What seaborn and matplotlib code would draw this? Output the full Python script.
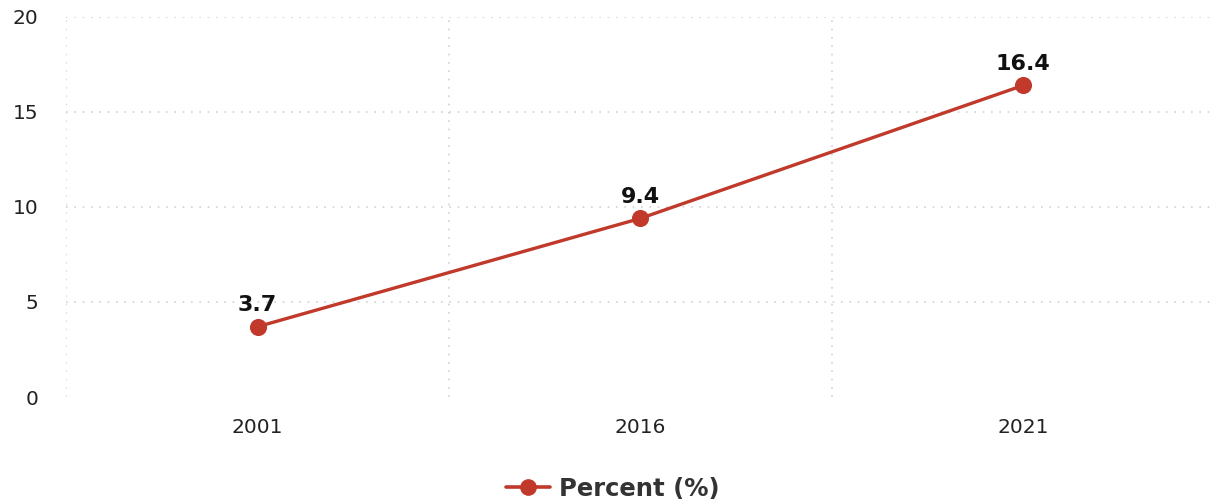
import matplotlib
matplotlib.use("Agg")
import matplotlib.pyplot as plt
import seaborn as sns
import pandas as pd
from matplotlib.lines import Line2D

years = ["2001", "2016", "2021"]
percent = [3.7, 9.4, 16.4]
y_ticks = [0, 5, 10, 15, 20]
series_name = "Percent (%)"

color = "#c0392b"

sns.set_theme(style="white")
plt.rcParams["font.family"] = ["DejaVu Sans"]

df = pd.DataFrame({"year": years, "value": percent})

fig = plt.figure(figsize=(12.14, 5.04), dpi=100)
ax = fig.add_axes([0.0545, 0.2123, 0.946, 0.754])

sns.pointplot(data=df, x="year", y="value", color=color, ax=ax,
              markers="o", linewidth=2.4, markersize=10.5, errorbar=None)

ax.set_xlim(-0.5, len(years) - 0.5)
ax.set_ylim(0, 20)
ax.set_yticks(y_ticks)
ax.set_xlabel("")
ax.set_ylabel("")

# dotted grid: horizontal at y ticks (above zero), vertical at category edges
for yv in y_ticks[1:]:
    ax.axhline(yv, color="#d2d2d2", linestyle=(0, (1, 4)), linewidth=1.2, zorder=0)
for xv in [i - 0.5 for i in range(len(years) + 1)]:
    ax.axvline(xv, color="#d2d2d2", linestyle=(0, (1, 4)), linewidth=1.2, zorder=0)

for s in ax.spines.values():
    s.set_visible(False)

ax.tick_params(axis="y", length=0, pad=20, labelsize=14.5, labelcolor="#222222")
ax.tick_params(axis="x", length=0, pad=15, labelsize=14.5, labelcolor="#222222")

for i, v in enumerate(percent):
    ax.annotate(f"{v}", (i, v), xytext=(0, 8.5), textcoords="offset points",
                ha="center", va="bottom", fontsize=16, fontweight="bold",
                color="#111111")

handle = Line2D([0], [0], color=color, linewidth=2.6, marker="o", markersize=11)
fig.legend([handle], [series_name], loc="center", bbox_to_anchor=(0.505, 0.03),
           frameon=False, handlelength=1.8, handletextpad=0.4,
           prop={"size": 17.5, "weight": "bold"}, labelcolor="#333333")

fig.savefig("out.png", dpi=100)
